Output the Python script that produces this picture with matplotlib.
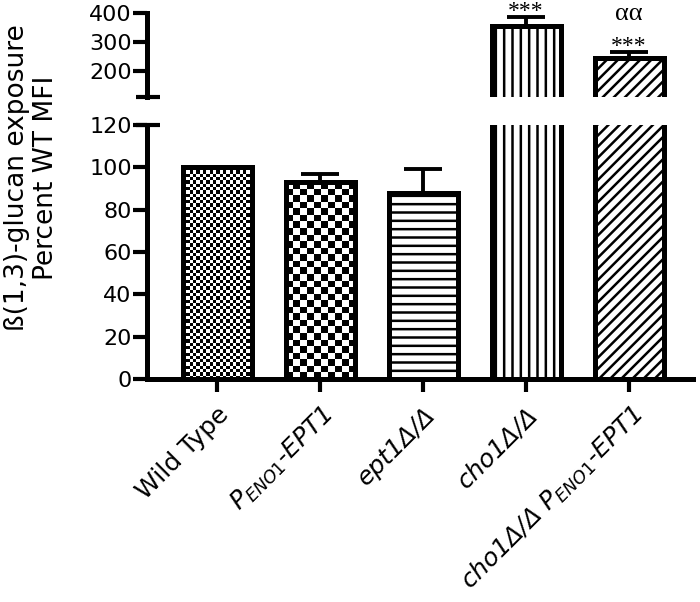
import numpy as np
import matplotlib.pyplot as plt

plt.rcParams['font.family'] = ['DejaVu Sans']
plt.rcParams['mathtext.fontset'] = 'dejavusans'
plt.rcParams['mathtext.default'] = 'it'
plt.rcParams['hatch.linewidth'] = 1.8

# data
strains = ['Wild Type', r'$P_{ENO1}$-EPT1', 'ept1Δ/Δ', 'cho1Δ/Δ', r'cho1Δ/Δ $P_{ENO1}$-EPT1']
italic = [False, True, True, True, True]
means = [100, 93, 88, 354, 246]
errs = [0, 3.7, 11, 32, 19]
stars = ['', '', '', '***', '***']
alphas = ['', '', '', '', 'αα']

x = np.arange(len(strains))
W = 0.67
LW = 3.6

fig = plt.figure(figsize=(7, 6.02), dpi=100)
ax_top = fig.add_axes([147/700, 1-97/602, (693-147)/700, (97-13)/602])
ax_bot = fig.add_axes([147/700, 1-379/602, (693-147)/700, (379-125)/602])


def checker_fill(ax, bar, cell_px):
    x0, y0 = bar.get_x(), bar.get_y()
    w, h = bar.get_width(), bar.get_height()
    (px0, py0), (px1, py1) = ax.transData.transform([(x0, y0), (x0 + w, y0 + h)])
    nx = max(1, int(round((px1 - px0) / cell_px)))
    ny = max(1, int(round((py1 - py0) / cell_px)))
    grid = np.add.outer(np.arange(ny), np.arange(nx)) % 2
    im = ax.imshow(grid, cmap='gray', extent=(x0, x0 + w, y0, y0 + h), aspect='auto',
                   interpolation='nearest', origin='lower', zorder=2)
    im.set_clip_path(bar)


for ax, ylim in [(ax_top, (112, 400)), (ax_bot, (0, 120))]:
    ax.set_xlim(-0.68, 4.62)
    ax.set_ylim(*ylim)
    bars = ax.bar(x, means, width=W, facecolor='white', edgecolor='black', linewidth=LW, zorder=2)
    hatches = [None, None, '--', '||', '///']
    for b, h in zip(bars, hatches):
        if h:
            b.set_hatch(h)
    if ax is ax_bot:
        checker_fill(ax, bars[0], 3.3)
        checker_fill(ax, bars[1], 6.6)
        ax.bar(x, means, width=W, facecolor='none', edgecolor='black', linewidth=LW, zorder=3)
    ax.errorbar(x, means, yerr=[np.zeros(len(errs)), errs], fmt='none', ecolor='black',
                elinewidth=2.8, capsize=13.5, capthick=2.8, zorder=1)
    ax.set_xlim(-0.68, 4.62)
    ax.set_ylim(*ylim)
    for s in ['top', 'right']:
        ax.spines[s].set_visible(False)
    ax.spines['left'].set_linewidth(LW)
    ax.spines['bottom'].set_linewidth(LW)
    ax.tick_params(axis='y', direction='out', length=10, width=3, labelsize=16, pad=1)
    ax.tick_params(axis='x', direction='out', length=9, width=3, labelsize=18, pad=8)

ax_top.spines['bottom'].set_visible(False)
ax_top.set_xticks([])
ax_top.set_yticks([200, 300, 400])
ax_bot.set_yticks(np.arange(0, 121, 20))
ax_bot.set_xticks(x)
ax_bot.set_xticklabels(strains, rotation=45, ha='right', rotation_mode='anchor')
for lab, it in zip(ax_bot.get_xticklabels(), italic):
    if it:
        lab.set_fontstyle('italic')

# axis break marks
ax_top.plot([-0.02, 0.024], [112, 112], color='black', lw=3, transform=ax_top.get_yaxis_transform(),
            clip_on=False, solid_capstyle='butt')
ax_bot.plot([-0.02, 0.024], [120, 120], color='black', lw=3, transform=ax_bot.get_yaxis_transform(),
            clip_on=False, solid_capstyle='butt')

for xi, m, e, s, a in zip(x, means, errs, stars, alphas):
    if s:
        ax_top.annotate(s, (xi, m + e), xytext=(0, -3.5), textcoords='offset points', ha='center',
                        va='bottom', fontsize=17, family='Liberation Serif', annotation_clip=False)
    if a:
        ax_top.annotate(a, (xi, m + e), xytext=(0, 20), textcoords='offset points', ha='center',
                        va='bottom', fontsize=19, family='Liberation Serif', annotation_clip=False)

fig.text(0.045, 1 - 178/602, 'ß(1,3)-glucan exposure\nPercent WT MFI', rotation=90,
         ha='center', va='center', fontsize=19, linespacing=1.15)

fig.savefig('out.png', dpi=100)
